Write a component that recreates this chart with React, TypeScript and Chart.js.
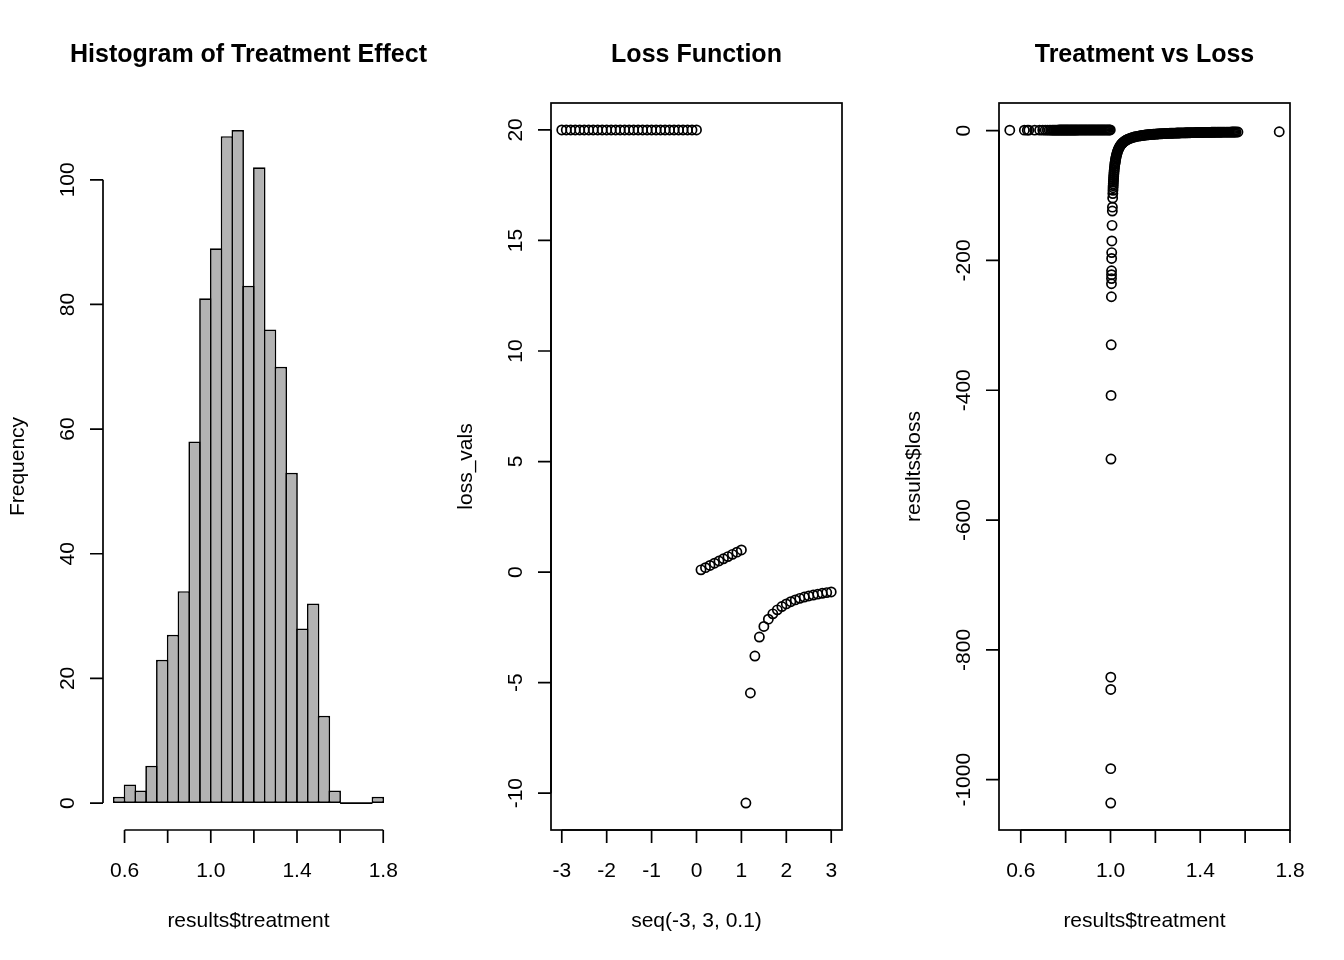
import React, { useEffect, useRef } from "react";
import { Chart, registerables } from "chart.js";

Chart.register(...registerables);

// ---------- Panel 1: histogram ----------
const histBreaks = [0.55, 0.6, 0.65, 0.7, 0.75, 0.8, 0.85, 0.9, 0.95, 1.0, 1.05, 1.1, 1.15, 1.2, 1.25, 1.3, 1.35, 1.4, 1.45, 1.5, 1.55, 1.6, 1.65, 1.7, 1.75, 1.8];
const histCounts = [1, 3, 2, 6, 23, 27, 34, 58, 81, 89, 107, 108, 83, 102, 76, 70, 53, 28, 32, 14, 2, 0, 0, 0, 1];
const histXTicks = [0.6, 0.8, 1.0, 1.2, 1.4, 1.6, 1.8];
const histXTickLabels = ["0.6", "", "1.0", "", "1.4", "", "1.8"];
const histYTicks = [0, 20, 40, 60, 80, 100];
const histYTickLabels = ["0", "20", "40", "60", "80", "100"];

// ---------- Panel 2: loss function ----------
const seqX = [
  -3.0, -2.9, -2.8, -2.7, -2.6, -2.5, -2.4, -2.3, -2.2, -2.1, -2.0, -1.9, -1.8, -1.7, -1.6, -1.5, -1.4, -1.3, -1.2, -1.1,
  -1.0, -0.9, -0.8, -0.7, -0.6, -0.5, -0.4, -0.3, -0.2, -0.1, 0.0, 0.1, 0.2, 0.3, 0.4, 0.5, 0.6, 0.7, 0.8, 0.9,
  1.0, 1.1, 1.2, 1.3, 1.4, 1.5, 1.6, 1.7, 1.8, 1.9, 2.0, 2.1, 2.2, 2.3, 2.4, 2.5, 2.6, 2.7, 2.8, 2.9, 3.0,
];
const lossVals = [
  20, 20, 20, 20, 20, 20, 20, 20, 20, 20, 20, 20, 20, 20, 20, 20, 20, 20, 20, 20,
  20, 20, 20, 20, 20, 20, 20, 20, 20, 20, 20, 0.1, 0.2, 0.3, 0.4, 0.5, 0.6, 0.7, 0.8, 0.9,
  1.0, -10.45, -5.47, -3.8, -2.94, -2.46, -2.13, -1.89, -1.71, -1.56, -1.44, -1.34, -1.26, -1.19, -1.13, -1.08, -1.04, -1.0, -0.96, -0.93, -0.9,
];
const lossXTicks = [-3, -2, -1, 0, 1, 2, 3];
const lossXTickLabels = ["-3", "-2", "-1", "0", "1", "2", "3"];
const lossYTicks = [-10, -5, 0, 5, 10, 15, 20];
const lossYTickLabels = ["-10", "-5", "0", "5", "10", "15", "20"];

// ---------- Panel 3: treatment vs loss ----------
const leftTreatment = [
  0.551, 0.616, 0.629, 0.636, 0.662, 0.684, 0.698, 0.709, 0.718, 0.727, 0.734, 0.74, 0.745,
  0.75, 0.755, 0.76, 0.765, 0.77, 0.775, 0.78, 0.785, 0.79, 0.795, 0.8, 0.805, 0.81, 0.815, 0.82, 0.825,
  0.83, 0.835, 0.84, 0.845, 0.85, 0.855, 0.86, 0.865, 0.87, 0.875, 0.88, 0.885, 0.89, 0.895, 0.9, 0.905,
  0.91, 0.915, 0.92, 0.925, 0.93, 0.935, 0.94, 0.945, 0.95, 0.955, 0.96, 0.965, 0.97, 0.975, 0.98, 0.985,
  0.99, 0.995, 0.999,
];
const leftLoss = [
  0.551, 0.616, 0.629, 0.636, 0.662, 0.684, 0.698, 0.709, 0.718, 0.727, 0.734, 0.74, 0.745,
  0.75, 0.755, 0.76, 0.765, 0.77, 0.775, 0.78, 0.785, 0.79, 0.795, 0.8, 0.805, 0.81, 0.815, 0.82, 0.825,
  0.83, 0.835, 0.84, 0.845, 0.85, 0.855, 0.86, 0.865, 0.87, 0.875, 0.88, 0.885, 0.89, 0.895, 0.9, 0.905,
  0.91, 0.915, 0.92, 0.925, 0.93, 0.935, 0.94, 0.945, 0.95, 0.955, 0.96, 0.965, 0.97, 0.975, 0.98, 0.985,
  0.99, 0.995, 0.999,
];
const columnTreatment = [
  1.00097, 1.00102, 1.00116, 1.00119, 1.00198, 1.00245, 1.00303, 1.00391, 1.00424, 1.00439, 1.00451,
  1.00463, 1.00508, 1.00532, 1.00589, 1.00686, 1.00808, 1.0085, 1.00965, 1.01036, 1.01093,
];
const columnLoss = [
  -1036, -983, -861, -842, -506, -408, -330, -256, -236, -228, -222,
  -216, -197, -188, -170, -146, -124, -118, -104, -97, -92,
];
const kneeTreatment = [
  1.0114, 1.0118, 1.0123, 1.0127, 1.0132, 1.0138, 1.0144, 1.015, 1.0157, 1.0165,
  1.0174, 1.0183, 1.0194, 1.0202, 1.021, 1.022, 1.023, 1.0241, 1.0253, 1.0266,
  1.0281, 1.0298, 1.0317, 1.0338, 1.0357, 1.0377, 1.0399, 1.0425, 1.0454, 1.0487,
  1.0512, 1.0539, 1.057, 1.0604, 1.0643, 1.0687, 1.0738, 1.0784, 1.0837, 1.0897,
  1.0957, 1.1026, 1.1093, 1.117, 1.1242,
];
const kneeLoss = [
  -88, -85, -82, -79, -76, -73, -70, -67, -64, -61,
  -58, -55, -52, -50, -48, -46, -44, -42, -40, -38,
  -36, -34, -32, -30, -28.5, -27, -25.5, -24, -22.5, -21,
  -20, -19, -18, -17, -16, -15, -14, -13.2, -12.4, -11.6,
  -10.9, -10.2, -9.6, -9.0, -8.5,
];
const tailTreatment = [
  1.13, 1.135, 1.14, 1.145, 1.15, 1.155, 1.16, 1.165, 1.17, 1.175,
  1.18, 1.185, 1.19, 1.195, 1.2, 1.205, 1.21, 1.215, 1.22, 1.225,
  1.23, 1.235, 1.24, 1.245, 1.25, 1.255, 1.26, 1.265, 1.27, 1.275,
  1.28, 1.285, 1.29, 1.295, 1.3, 1.305, 1.31, 1.315, 1.32, 1.325,
  1.33, 1.335, 1.34, 1.345, 1.35, 1.355, 1.36, 1.365, 1.37, 1.375,
  1.38, 1.385, 1.39, 1.395, 1.4, 1.405, 1.41, 1.415, 1.42, 1.425,
  1.43, 1.435, 1.44, 1.445, 1.45, 1.455, 1.46, 1.465, 1.47, 1.475,
  1.48, 1.485, 1.49, 1.495, 1.5, 1.505, 1.51, 1.515, 1.52, 1.525,
  1.53, 1.535, 1.54, 1.545, 1.55, 1.555, 1.56, 1.568, 1.752,
];
const tailLoss = [
  -8.14, -7.86, -7.59, -7.35, -7.12, -6.9, -6.7, -6.51, -6.33, -6.16,
  -6.01, -5.86, -5.71, -5.58, -5.45, -5.33, -5.21, -5.1, -5.0, -4.89,
  -4.8, -4.71, -4.62, -4.53, -4.45, -4.37, -4.3, -4.22, -4.15, -4.09,
  -4.02, -3.96, -3.9, -3.84, -3.78, -3.73, -3.68, -3.62, -3.58, -3.53,
  -3.48, -3.44, -3.39, -3.35, -3.31, -3.27, -3.23, -3.19, -3.15, -3.12,
  -3.08, -3.05, -3.01, -2.98, -2.95, -2.92, -2.89, -2.86, -2.83, -2.8,
  -2.78, -2.75, -2.72, -2.7, -2.67, -2.65, -2.62, -2.6, -2.58, -2.56,
  -2.53, -2.51, -2.49, -2.47, -2.45, -2.43, -2.41, -2.39, -2.37, -2.35,
  -2.34, -2.32, -2.3, -2.28, -2.27, -2.25, -2.24, -2.21, -1.78,
];
const tvlXTicks = [0.6, 0.8, 1.0, 1.2, 1.4, 1.6, 1.8];
const tvlXTickLabels = ["0.6", "", "1.0", "", "1.4", "", "1.8"];
const tvlYTicks = [-1000, -800, -600, -400, -200, 0];
const tvlYTickLabels = ["-1000", "-800", "-600", "-400", "-200", "0"];

// ---------- layout / style ----------
const PANEL_W = 448;
const PANEL_H = 960;
const PAD = { left: 103, right: 54, top: 103, bottom: 130 };
const FONT = '"Liberation Sans", Arial, Helvetica, sans-serif';
const LW = 1.7;
const TICK = 13;

function rRange(vals: number[]): [number, number] {
  let mn = Infinity, mx = -Infinity;
  for (const v of vals) { if (v < mn) mn = v; if (v > mx) mx = v; }
  const d = (mx - mn) * 0.04;
  return [mn - d, mx + d];
}

type Spec = {
  title: string;
  xLabel: string;
  yLabel: string;
  xTicks: number[];
  xTickLabels: string[];
  yTicks: number[];
  yTickLabels: string[];
  box: boolean;
  zeroSegments?: [number, number][];
};

function makeRPlugin(spec: Spec) {
  return {
    id: "rStyle",
    afterDatasetsDraw(chart: any) {
      if (!spec.zeroSegments) return;
      const ctx = chart.ctx;
      const xs = chart.scales.x, ys = chart.scales.y;
      ctx.save();
      ctx.strokeStyle = "#000";
      ctx.lineWidth = LW;
      ctx.beginPath();
      for (const [a, b] of spec.zeroSegments) {
        const y0 = ys.getPixelForValue(0);
        ctx.moveTo(xs.getPixelForValue(a), y0);
        ctx.lineTo(xs.getPixelForValue(b), y0);
      }
      ctx.stroke();
      ctx.restore();
    },
    afterDraw(chart: any) {
      const ctx = chart.ctx;
      const area = chart.chartArea;
      const xs = chart.scales.x, ys = chart.scales.y;
      ctx.save();
      ctx.strokeStyle = "#000";
      ctx.fillStyle = "#000";
      ctx.lineWidth = LW;
      if (spec.box) ctx.strokeRect(area.left, area.top, area.right - area.left, area.bottom - area.top);
      const xp = spec.xTicks.map((v) => xs.getPixelForValue(v));
      const yp = spec.yTicks.map((v) => ys.getPixelForValue(v));
      ctx.beginPath();
      ctx.moveTo(xp[0], area.bottom);
      ctx.lineTo(xp[xp.length - 1], area.bottom);
      for (const p of xp) { ctx.moveTo(p, area.bottom); ctx.lineTo(p, area.bottom + TICK); }
      ctx.moveTo(area.left, yp[0]);
      ctx.lineTo(area.left, yp[yp.length - 1]);
      for (const p of yp) { ctx.moveTo(area.left, p); ctx.lineTo(area.left - TICK, p); }
      ctx.stroke();

      ctx.font = `21px ${FONT}`;
      ctx.textAlign = "center";
      ctx.textBaseline = "alphabetic";
      xp.forEach((p, i) => { if (spec.xTickLabels[i]) ctx.fillText(spec.xTickLabels[i], p, 877); });
      yp.forEach((p, i) => {
        ctx.save();
        ctx.translate(area.left - 29, p);
        ctx.rotate(-Math.PI / 2);
        ctx.fillText(spec.yTickLabels[i], 0, 0);
        ctx.restore();
      });
      const cx = (area.left + area.right) / 2;
      const cy = (area.top + area.bottom) / 2;
      ctx.fillText(spec.xLabel, cx, 927);
      ctx.save();
      ctx.translate(24, cy);
      ctx.rotate(-Math.PI / 2);
      ctx.fillText(spec.yLabel, 0, 0);
      ctx.restore();
      ctx.font = `bold 25px ${FONT}`;
      ctx.fillText(spec.title, cx, 62);
      ctx.restore();
    },
  };
}

function baseOptions(xr: [number, number], yr: [number, number]) {
  return {
    responsive: false,
    animation: false as const,
    devicePixelRatio: 1,
    events: [] as any[],
    layout: { padding: PAD },
    plugins: { legend: { display: false }, title: { display: false }, tooltip: { enabled: false } },
    scales: {
      x: { type: "linear" as const, display: false, min: xr[0], max: xr[1], offset: false },
      y: { type: "linear" as const, display: false, min: yr[0], max: yr[1] },
    },
  };
}

const pointStyleOpts = {
  pointRadius: 4.6,
  pointBorderWidth: 1.7,
  pointBackgroundColor: "rgba(0,0,0,0)",
  pointBorderColor: "#000",
  showLine: false,
};

function histConfig(): any {
  const xr = rRange([histBreaks[0], histBreaks[histBreaks.length - 1]]);
  const yr = rRange([0, ...histCounts]);
  const plotW = PANEL_W - PAD.left - PAD.right;
  const binW = histBreaks[1] - histBreaks[0];
  const binPx = (plotW * binW) / (xr[1] - xr[0]);
  const data = histCounts.map((c, i) => ({ x: (histBreaks[i] + histBreaks[i + 1]) / 2, y: c }));
  const zeroSegments: [number, number][] = [];
  histCounts.forEach((c, i) => { if (c === 0) zeroSegments.push([histBreaks[i], histBreaks[i + 1]]); });
  return {
    type: "bar",
    data: {
      datasets: [{
        data,
        backgroundColor: "#b3b3b3",
        borderColor: "#000",
        borderWidth: LW,
        borderSkipped: false,
        barPercentage: (binPx + LW) / binPx,
        categoryPercentage: 1,
      }],
    },
    options: baseOptions(xr, yr),
    plugins: [makeRPlugin({
      title: "Histogram of Treatment Effect",
      xLabel: "results$treatment",
      yLabel: "Frequency",
      xTicks: histXTicks, xTickLabels: histXTickLabels,
      yTicks: histYTicks, yTickLabels: histYTickLabels,
      box: false, zeroSegments,
    })],
  };
}

function lossConfig(): any {
  const data = seqX.map((x, i) => ({ x, y: lossVals[i] }));
  return {
    type: "scatter",
    data: { datasets: [{ data, ...pointStyleOpts }] },
    options: baseOptions(rRange(seqX), rRange(lossVals)),
    plugins: [makeRPlugin({
      title: "Loss Function",
      xLabel: "seq(-3, 3, 0.1)",
      yLabel: "loss_vals",
      xTicks: lossXTicks, xTickLabels: lossXTickLabels,
      yTicks: lossYTicks, yTickLabels: lossYTickLabels,
      box: true,
    })],
  };
}

function tvlConfig(): any {
  const xs = [...leftTreatment, ...columnTreatment, ...kneeTreatment, ...tailTreatment];
  const ys = [...leftLoss, ...columnLoss, ...kneeLoss, ...tailLoss];
  const data = xs.map((x, i) => ({ x, y: ys[i] }));
  return {
    type: "scatter",
    data: { datasets: [{ data, ...pointStyleOpts }] },
    options: baseOptions(rRange(xs), rRange(ys)),
    plugins: [makeRPlugin({
      title: "Treatment vs Loss",
      xLabel: "results$treatment",
      yLabel: "results$loss",
      xTicks: tvlXTicks, xTickLabels: tvlXTickLabels,
      yTicks: tvlYTicks, yTickLabels: tvlYTickLabels,
      box: true,
    })],
  };
}

function Panel({ left, makeConfig }: { left: number; makeConfig: () => any }) {
  const ref = useRef<HTMLCanvasElement | null>(null);
  useEffect(() => {
    if (!ref.current) return;
    const chart = new Chart(ref.current, makeConfig());
    return () => chart.destroy();
  }, []);
  return (
    <canvas
      ref={ref}
      width={PANEL_W}
      height={PANEL_H}
      style={{ position: "absolute", left, top: 0, width: PANEL_W, height: PANEL_H }}
    />
  );
}

export default function App() {
  return (
    <div style={{ position: "absolute", left: 0, top: 0, width: 1344, height: 960, background: "#fff" }}>
      <Panel left={0} makeConfig={histConfig} />
      <Panel left={448} makeConfig={lossConfig} />
      <Panel left={896} makeConfig={tvlConfig} />
    </div>
  );
}
